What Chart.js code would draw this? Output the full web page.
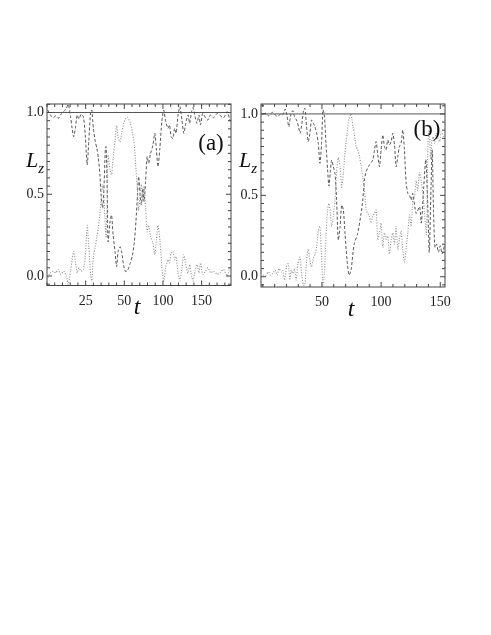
<!DOCTYPE html>
<html>
<head>
<meta charset="utf-8">
<script src="https://cdn.jsdelivr.net/npm/chart.js@4.4.1/dist/chart.umd.min.js"></script>
<style>
  body { margin: 0; background: #fff; }
  #page { position: relative; width: 491px; height: 635px; background: #fff; overflow: hidden; }
  canvas { position: absolute; }
  .lbl { position: absolute; font-family: 'Liberation Serif', serif; color: #111; line-height: 1; white-space: nowrap; transform: translate(-50%, -50%); }
  .it { font-style: italic; }
</style>
</head>
<body>
<div id="page">
  <canvas id="chartA" style="left:0px;top:90px;" width="240" height="230"></canvas>
  <canvas id="chartB" style="left:232px;top:90px;" width="220" height="230"></canvas>
  <div class="lbl it" style="left:35px;top:160px;font-size:22px;">L<span style="font-size:15px;position:relative;top:6px;">z</span></div>
  <div class="lbl it" style="left:248px;top:160px;font-size:22px;">L<span style="font-size:15px;position:relative;top:6px;">z</span></div>
  <div class="lbl it" style="left:137px;top:306px;font-size:24px;">t</div>
  <div class="lbl it" style="left:351px;top:308px;font-size:24px;">t</div>
  <div class="lbl" style="left:211px;top:142px;font-size:23px;">(a)</div>
  <div class="lbl" style="left:427px;top:128px;font-size:23px;">(b)</div>
</div>
<script>
// panel (a): x positions are in tick slots (labels 25, 50, 100, 150 sit at slots 1..4)
const slotsA = [0.02,0.09,0.16,0.23,0.29,0.36,0.43,0.50,0.55,0.61,0.65,0.69,0.74,0.78,0.83,0.88,0.94,0.99,1.04,1.08,
  1.13,1.16,1.20,1.25,1.29,1.33,1.37,1.40,1.44,1.47,1.51,1.53,1.56,1.58,1.63,1.67,1.71,1.76,1.80,1.84,
  1.89,1.93,1.98,2.03,2.09,2.15,2.21,2.26,2.30,2.34,2.37,2.41,2.44,2.48,2.51,2.55,2.59,2.63,2.68,2.74,
  2.79,2.83,2.87,2.92,2.97,3.02,3.07,3.13,3.17,3.21,3.26,3.30,3.34,3.39,3.44,3.49,3.54,3.59,3.65,3.69,
  3.74,3.78,3.83,3.88,3.93,3.97,4.03,4.10,4.16,4.23,4.31,4.40,4.48,4.57,4.66,4.74];
const dashA = [1.015,0.985,0.968,0.98,0.964,0.989,1.005,1.025,1.05,0.975,0.903,0.852,0.913,0.985,0.96,0.989,0.975,0.862,0.679,0.822,
  1.005,1.015,0.903,0.822,0.781,0.72,0.618,0.495,0.414,0.516,0.781,0.791,0.495,0.21,0.332,0.373,0.251,0.149,0.057,0.149,
  0.179,0.149,0.067,0.027,0.037,0.077,0.128,0.21,0.332,0.495,0.608,0.495,0.434,0.536,0.455,0.577,0.73,0.689,0.75,0.801,
  0.873,0.771,0.669,0.781,0.944,1.015,0.944,0.903,0.924,0.852,0.842,0.903,0.873,0.985,1.036,0.954,0.873,0.934,0.985,0.934,
  1.005,1.03,0.975,0.934,0.985,0.924,0.995,0.968,0.954,0.985,0.968,0.995,0.981,0.968,1.005,0.944];
const dotA = [-0.01,0.02,0.03,0.02,0.04,0.01,0.03,0.0,-0.05,0.03,0.10,0.15,0.08,0.02,0.05,0.03,0.04,0.12,0.31,0.18,
  0.0,-0.03,0.12,0.18,0.24,0.30,0.38,0.48,0.56,0.50,0.30,0.24,0.48,0.74,0.65,0.62,0.72,0.83,0.92,0.85,
  0.82,0.87,0.93,0.96,0.97,0.94,0.88,0.80,0.66,0.52,0.40,0.50,0.56,0.46,0.55,0.42,0.27,0.31,0.24,0.20,
  0.13,0.22,0.31,0.22,0.06,-0.03,0.05,0.10,0.08,0.14,0.15,0.10,0.12,0.02,-0.03,0.05,0.13,0.07,0.02,0.07,
  0.0,-0.03,0.03,0.07,0.02,0.08,0.01,0.03,0.05,0.02,0.03,0.01,0.02,0.04,0.0,0.06];
const sumA = [1.0, 1.0];
const xTickPosA = [1, 2, 3, 4];
const xTickTextA = ['25', '50', '100', '150'];

// panel (b): x is t
const tDashB = [0,2.8,4.8,6.5,8.5,10.5,12.7,15.0,16.9,18.9,20.6,22.0,23.7,25.4,26.8,28.5,30.2,31.6,33.1,34.5,
  35.6,37.0,38.4,39.8,41.2,42.7,44.1,45.5,46.9,48.3,49.7,50.8,52.0,53.4,54.8,55.9,57.1,58.2,59.6,61.0,
  62.4,63.8,65.3,66.7,68.1,69.5,71.2,72.9,74.6,76.3,77.4,80.2,83.1,84.5,85.9,87.3,90.1,92.9,94.4,95.8,
  97.2,98.6,100,101.4,102.8,104.2,105.6,107.1,108.5,109.9,111.3,112.7,114.1,115.5,116.9,118.3,119.7,121.2,122.6,124.0,
  125.4,126.8,129.6,132.5,134.0,136.0,137.8,139.6,140.7,142.2,143.2,144.3,145.5,147.0,148.4,150.0,151.5,153.5];
const dashB = [1.0,1.004,0.988,1.0,1.01,0.994,0.984,1.0,0.994,1.03,0.984,0.922,0.994,1.02,0.984,0.963,0.922,0.881,0.943,1.025,
  1.035,0.922,0.83,0.881,0.963,0.943,0.922,0.881,0.82,0.697,0.82,1.025,0.994,0.82,0.656,0.557,0.645,0.717,0.676,0.635,
  0.471,0.225,0.307,0.44,0.41,0.266,0.102,0.01,0.041,0.154,0.205,0.266,0.39,0.471,0.594,0.645,0.686,0.717,0.779,0.83,
  0.748,0.676,0.779,0.871,0.8,0.779,0.84,0.81,0.83,0.881,0.81,0.676,0.738,0.8,0.82,0.902,0.779,0.574,0.512,0.502,
  0.471,0.512,0.389,0.43,0.33,0.55,0.72,0.40,0.15,0.55,0.78,0.40,0.18,0.20,0.15,0.19,0.14,0.19];
const tDotB = [0,2.8,4.8,6.5,8.5,10.5,12.1,13.8,15.5,16.9,18.4,20.1,21.5,22.9,24.0,25.4,26.8,28.2,29.7,31.4,
  32.8,34.2,35.6,37.0,38.4,39.8,41.2,42.7,44.1,45.5,46.9,48.3,49.7,50.8,52.0,53.4,54.8,55.9,57.1,58.2,
  59.6,61.0,62.4,63.8,65.3,66.7,68.1,69.5,71.2,72.9,74.6,76.3,77.4,78.8,80.2,81.7,83.1,84.5,85.9,87.3,
  88.7,90.1,91.5,92.9,94.4,95.8,97.2,98.6,100,101.4,102.8,104.2,105.6,107.1,108.5,109.9,111.3,112.7,114.1,115.5,
  116.9,118.3,119.7,121.2,122.6,124.0,125.4,126.8,128.2,129.6,131.0,132.5,134.0,135.3,136.7,138.4,139.6,140.7,141.9,143.0,
  144.1,145.2,146.6,148.0,149.4,150.8,152.8];
const dotB = [0.01,0.01,0.03,0.01,0.02,0.04,0.01,0.05,0.03,0.04,-0.02,0.06,0.08,-0.02,0.04,0.02,0.05,-0.02,0.08,0.12,
  0.02,-0.05,-0.05,0.10,0.17,0.10,0.06,0.11,0.14,0.18,0.28,0.31,0.12,-0.05,0.02,0.25,0.41,0.45,0.39,0.31,
  0.37,0.47,0.64,0.73,0.68,0.55,0.64,0.76,0.88,0.97,1.0,0.92,0.88,0.80,0.78,0.74,0.68,0.61,0.55,0.41,
  0.39,0.37,0.33,0.37,0.39,0.41,0.225,0.27,0.33,0.18,0.27,0.23,0.25,0.14,0.225,0.27,0.20,0.31,0.17,0.23,
  0.28,0.17,0.09,0.18,0.27,0.38,0.31,0.47,0.49,0.59,0.53,0.64,0.58,0.51,0.39,0.26,0.82,0.90,0.72,0.84,
  0.86,0.82,0.88,0.85,0.83,0.89,0.86];
const sumB = [1.0, 1.0];
const xTickPosB = [50, 100, 150];

const yTickPos = [0, 0.5, 1.0];
const yTickText = ['0.0', '0.5', '1.0'];

Chart.defaults.font.family = "'Liberation Serif', serif";
Chart.defaults.font.size = 14;
Chart.defaults.color = '#222';

// frame with inward ticks on all four sides
const frameTicks = {
  id: 'frameTicks',
  afterDatasetsDraw(chart, args, opts) {
    const { ctx, chartArea: a, scales: { x, y } } = chart;
    ctx.save();
    ctx.strokeStyle = '#444';
    ctx.lineWidth = 1;
    ctx.beginPath();
    const xs = Math.ceil(x.min / opts.xMinor), xe = Math.floor(x.max / opts.xMinor);
    for (let i = xs; i <= xe; i++) {
      const p = x.getPixelForValue(i * opts.xMinor);
      const len = opts.xMajor.some(v => Math.abs(v - i * opts.xMinor) < 1e-6) ? 5 : 3;
      ctx.moveTo(p, a.bottom); ctx.lineTo(p, a.bottom - len);
      ctx.moveTo(p, a.top); ctx.lineTo(p, a.top + len);
    }
    const ys = Math.ceil(y.min / opts.yMinor), ye = Math.floor(y.max / opts.yMinor);
    for (let i = ys; i <= ye; i++) {
      const p = y.getPixelForValue(i * opts.yMinor);
      const len = yTickPos.some(v => Math.abs(v - i * opts.yMinor) < 1e-6) ? 5 : 3;
      ctx.moveTo(a.left, p); ctx.lineTo(a.left + len, p);
      ctx.moveTo(a.right, p); ctx.lineTo(a.right - len, p);
    }
    ctx.stroke();
    ctx.strokeRect(a.left, a.top, a.width, a.height);
    ctx.restore();
  }
};

function makePanel(id, cfg) {
  new Chart(document.getElementById(id), {
    type: 'line',
    data: {
      datasets: [{
        data: cfg.sumX.map((v, i) => ({ x: v, y: cfg.sum[i] })),
        borderColor: '#555', borderWidth: 1, pointRadius: 0
      }, {
        data: cfg.dotX.map((v, i) => ({ x: v, y: cfg.dot[i] })),
        borderColor: '#8e8e8e', borderWidth: 1.1, borderDash: [1, 1.6], pointRadius: 0, tension: 0.25
      }, {
        data: cfg.dashX.map((v, i) => ({ x: v, y: cfg.dash[i] })),
        borderColor: '#444', borderWidth: 0.9, borderDash: [3, 2], pointRadius: 0, tension: 0.25
      }]
    },
    options: {
      responsive: false,
      animation: false,
      layout: { padding: { left: 0, right: cfg.padRight, top: 14, bottom: 0 } },
      plugins: {
        legend: { display: false },
        tooltip: { enabled: false },
        frameTicks: { xMinor: cfg.xMinor, xMajor: cfg.xTickPos, yMinor: 0.05 }
      },
      scales: {
        x: {
          type: 'linear',
          min: cfg.xMin, max: cfg.xMax,
          afterBuildTicks: s => { s.ticks = cfg.xTickPos.map(v => ({ value: v })); },
          afterFit: s => { s.height = cfg.xHeight; s.paddingLeft = 0; s.paddingRight = 0; },
          grid: { display: false, drawTicks: false },
          border: { display: false },
          ticks: {
            padding: 7, maxRotation: 0, autoSkip: false,
            callback: (v, i) => cfg.xTickText[i]
          }
        },
        y: {
          min: cfg.yMin, max: cfg.yMax,
          afterBuildTicks: s => { s.ticks = yTickPos.map(v => ({ value: v })); },
          afterFit: s => { s.width = cfg.yWidth; s.paddingTop = 0; s.paddingBottom = 0; },
          grid: { display: false, drawTicks: false },
          border: { display: false },
          ticks: { padding: 3, autoSkip: false, callback: (v, i) => yTickText[i] }
        }
      }
    },
    plugins: [frameTicks]
  });
}

makePanel('chartA', {
  dashX: slotsA, dash: dashA, dotX: slotsA, dot: dotA,
  sumX: [0, 4.76], sum: sumA,
  xMin: 0, xMax: 4.76, xMinor: 0.2, xTickPos: xTickPosA, xTickText: xTickTextA,
  yMin: -0.058, yMax: 1.052, yWidth: 47, xHeight: 34.5, padRight: 9
});

makePanel('chartB', {
  dashX: tDashB, dash: dashB, dotX: tDotB, dot: dotB,
  sumX: [-1.5, 154], sum: sumB,
  xMin: -1.5, xMax: 154, xMinor: 10, xTickPos: xTickPosB, xTickText: xTickPosB.map(String),
  yMin: -0.063, yMax: 1.061, yWidth: 29, xHeight: 33, padRight: 7
});
</script>
</body>
</html>
